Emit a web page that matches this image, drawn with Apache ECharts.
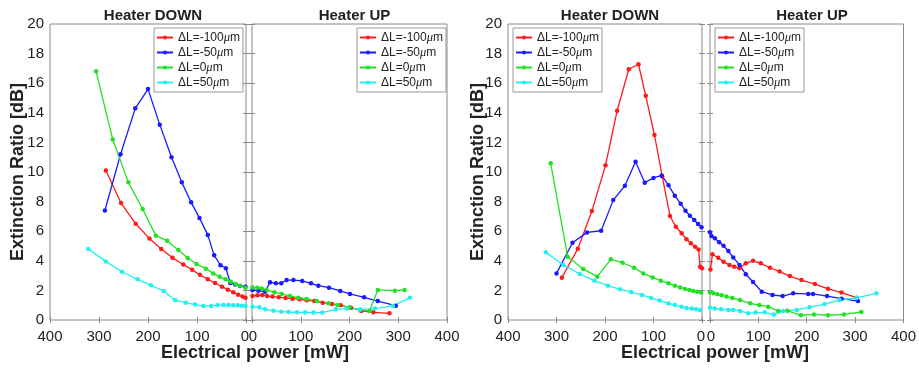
<!DOCTYPE html>
<html><head><meta charset="utf-8">
<script src="https://cdn.jsdelivr.net/npm/echarts@6/dist/echarts.min.js"></script>
<style>html,body{margin:0;padding:0;background:#fff}#c{width:919px;height:370px}</style>
</head><body><div id="c"></div>
<script>
// ---- data: [power mW, extinction ratio dB] ----
const seriesNames = ['ΔL=-100μm', 'ΔL=-50μm', 'ΔL=0μm', 'ΔL=50μm'];
const xTicks = [0, 100, 200, 300, 400];
const yTicks = [0, 2, 4, 6, 8, 10, 12, 14, 16, 18, 20];
const panelTitles = ['Heater DOWN', 'Heater UP', 'Heater DOWN', 'Heater UP'];

// Left figure, Heater DOWN
const aDownM100 = [[286,10.1],[255,7.9],[225,6.5],[197,5.5],[173,4.8],[150,4.2],[128,3.75],[110,3.4],[94,3.05],[78,2.75],[63,2.5],[49,2.25],[37,2.05],[26,1.87],[16,1.7],[7,1.58],[1,1.5]];
const aDownM50 = [[288,7.4],[256,11.2],[226,14.3],[200,15.6],[176,13.2],[152,11.0],[131,9.3],[112,7.95],[95,6.9],[78,5.75],[65,4.37],[52,3.7],[41,3.5],[32,2.5],[22,2.4],[12,2.3],[1,2.25]];
const aDown0 = [[306,16.8],[272,12.2],[240,9.3],[211,7.5],[184,5.7],[161,5.36],[138,4.73],[119,4.19],[101,3.78],[82,3.47],[67,3.15],[54,2.93],[42,2.75],[31,2.59],[21,2.43],[12,2.32],[1,2.18]];
const aDown50 = [[322,4.8],[286,3.96],[253,3.26],[221,2.75],[194,2.34],[168,1.96],[145,1.35],[123,1.17],[104,1.04],[87,0.95],[71,0.95],[58,1.01],[46,1.01],[36,1.01],[26,0.99],[17,0.99],[9,0.97],[1,0.95]];
// Left figure, Heater UP
const aUpM100 = [[1,1.62],[11,1.67],[21,1.69],[31,1.62],[42,1.58],[55,1.53],[69,1.49],[83,1.44],[97,1.4],[112,1.33],[128,1.28],[145,1.17],[164,1.08],[182,0.99],[203,0.83],[224,0.61],[249,0.52],[282,0.45]];
const aUpM50 = [[1,2.03],[13,1.98],[27,1.91],[37,2.55],[49,2.48],[60,2.48],[71,2.7],[85,2.7],[103,2.64],[121,2.48],[136,2.32],[158,2.18],[181,1.96],[201,1.76],[230,1.53],[258,1.28],[295,0.97]];
const aUp0 = [[1,2.2],[11,2.18],[20,2.12],[30,2.03],[46,1.87],[61,1.76],[78,1.62],[95,1.51],[112,1.42],[133,1.28],[157,1.13],[176,1.01],[200,0.86],[222,0.68],[241,0.61],[258,2.03],[293,1.98],[313,2.03]];
const aUp50 = [[1,0.9],[15,0.86],[27,0.72],[44,0.63],[60,0.56],[75,0.54],[92,0.52],[109,0.52],[126,0.5],[144,0.5],[172,0.72],[194,0.77],[222,0.72],[252,0.77],[289,0.95],[324,1.51]];
// Right figure, Heater DOWN
const bDownM100 = [[289,2.86],[256,4.82],[227,7.36],[199,10.45],[175,14.14],[151,16.94],[131,17.28],[116,15.15],[98,12.5],[82,9.7],[66,7.03],[54,6.3],[42,5.86],[32,5.45],[23,5.18],[14,4.95],[7,4.77],[4,3.6],[0,3.49]];
const bDownM50 = [[300,3.15],[267,5.22],[237,5.92],[208,6.03],[183,8.1],[159,9.07],[137,10.7],[118,9.28],[100,9.6],[83,9.77],[69,9.1],[56,8.4],[44,7.86],[34,7.38],[25,7.05],[16,6.76],[8,6.49],[1,6.26]];
const bDown0 = [[312,10.59],[277,4.28],[245,3.45],[216,2.93],[188,4.1],[164,3.87],[140,3.53],[121,3.15],[102,2.88],[85,2.66],[69,2.48],[56,2.32],[45,2.2],[35,2.09],[26,2.03],[18,1.96],[10,1.91],[2,1.85]];
const bDown50 = [[322,4.57],[286,3.72],[252,3.11],[222,2.66],[194,2.32],[169,2.07],[146,1.89],[124,1.69],[105,1.49],[87,1.31],[69,1.12],[56,1.01],[42,0.9],[32,0.81],[21,0.77],[12,0.72],[4,0.68]];
// Right figure, Heater UP
const bUpM100 = [[1,3.42],[5,4.44],[17,4.21],[28,3.94],[40,3.72],[50,3.6],[61,3.49],[74,3.83],[89,4.0],[105,3.83],[124,3.53],[144,3.27],[165,2.97],[189,2.7],[217,2.43],[244,2.11],[272,1.85],[303,1.51]];
const bUpM50 = [[0,5.93],[3,5.68],[10,5.52],[19,5.25],[28,5.02],[38,4.66],[48,4.23],[61,3.72],[74,3.09],[89,2.57],[107,1.91],[129,1.69],[150,1.62],[172,1.8],[203,1.76],[213,1.76],[242,1.62],[272,1.44],[306,1.28]];
const bUp0 = [[0,1.87],[7,1.8],[15,1.74],[24,1.67],[34,1.58],[46,1.49],[62,1.35],[83,1.13],[102,1.01],[120,0.9],[141,0.61],[160,0.63],[188,0.32],[215,0.38],[244,0.32],[277,0.38],[313,0.54]];
const bUp50 = [[0,0.83],[10,0.77],[23,0.72],[38,0.68],[48,0.68],[62,0.61],[79,0.45],[94,0.5],[113,0.52],[132,0.38],[151,0.61],[179,0.68],[206,0.86],[237,1.08],[268,1.35],[303,1.49],[344,1.8]];

const panelData = [
  [aDownM100, aDownM50, aDown0, aDown50],
  [aUpM100, aUpM50, aUp0, aUp50],
  [bDownM100, bDownM50, bDown0, bDown50],
  [bUpM100, bUpM50, bUp0, bUp50]
];

// ---- layout / style ----
const colors = ['#ff1a1a', '#1a1aff', '#22e022', '#22f0f0'];
const panels = [
  {left: 50, width: 196, inverse: true, ylabels: true, legendLeft: 154},
  {left: 252, width: 195, inverse: false, ylabels: false, legendLeft: 357},
  {left: 508, width: 194, inverse: true, ylabels: true, legendLeft: 513},
  {left: 710, width: 194, inverse: false, ylabels: false, legendLeft: 715}
];
const TOP = 24, H = 296;
const axisCol = '#8a8a8a', textCol = '#222';
const font = 'Liberation Sans, Arial, sans-serif';

const grid = [], xAxis = [], yAxis = [], series = [], legend = [], title = [];
panels.forEach((p, i) => {
  grid.push({left: p.left, top: TOP, width: p.width, height: H, show: true, borderColor: axisCol, borderWidth: 1, backgroundColor: '#fff'});
  const common = {min: 0, max: 400, interval: 100, inverse: p.inverse, gridIndex: i,
    axisLine: {show: false}, splitLine: {show: false},
    axisTick: {show: true, inside: true, length: 3, lineStyle: {color: axisCol}}};
  const zeroKey = p.inverse ? 'r' : 'l';
  xAxis.push(Object.assign({}, common, {type: 'value', position: 'bottom',
    axisLabel: {show: true, color: textCol, fontSize: 15, fontFamily: font, margin: 9, hideOverlap: false,
      formatter: v => v === 0 ? '{' + zeroKey + '|0}' : String(v),
      rich: {r: {fontSize: 15, fontFamily: font, color: textCol, padding: [0, 2, 0, 0]},
             l: {fontSize: 15, fontFamily: font, color: textCol, padding: [0, 0, 0, 2]}}}}));
  xAxis.push(Object.assign({}, common, {type: 'value', position: 'top', axisLabel: {show: false}}));
  const ycommon = {type: 'value', min: 0, max: 20, interval: 2, gridIndex: i,
    axisLine: {show: false}, splitLine: {show: false},
    axisTick: {show: true, inside: true, length: 3, lineStyle: {color: axisCol}}};
  yAxis.push(Object.assign({}, ycommon, {position: 'left',
    axisLabel: {show: p.ylabels, color: textCol, fontSize: 15, fontFamily: font, margin: 6}}));
  yAxis.push(Object.assign({}, ycommon, {position: 'right', axisLabel: {show: false}}));
  panelData[i].forEach((d, k) => {
    series.push({type: 'line', name: seriesNames[k], xAxisIndex: 2 * i, yAxisIndex: 2 * i,
      data: d, symbol: 'circle', symbolSize: 4.5, showSymbol: true,
      lineStyle: {color: colors[k], width: 1.3}, itemStyle: {color: colors[k]},
      emphasis: {disabled: true}, animation: false, z: 3});
  });
  legend.push({orient: 'vertical', left: p.legendLeft, top: 28, data: seriesNames,
    backgroundColor: '#fff', borderColor: '#999', borderWidth: 1,
    padding: [3, 3, 3, 2], itemGap: 2, itemWidth: 16, itemHeight: 5,
    selectedMode: false,
    textStyle: {fontFamily: font, fontSize: 12, color: textCol,
      rich: {a: {fontFamily: font, fontSize: 12, color: textCol, height: 13}, m: {fontFamily: 'Liberation Serif, serif', fontStyle: 'italic', fontSize: 12.5, color: textCol, height: 13}}},
    formatter: n => {
      const parts = n.split('μ');
      return '{a|' + parts[0] + '}{m|μ}{a|' + parts[1] + '}';
    }
  });
  title.push({text: panelTitles[i], left: p.left + p.width / 2, top: 3, textAlign: 'center',
    textStyle: {fontFamily: font, fontSize: 15, fontWeight: 'bold', color: textCol}});
});
// axis titles
[0, 460].forEach(off => {
  title.push({text: 'Electrical power [mW]', left: off + 250, top: 339, textAlign: 'center',
    textStyle: {fontFamily: font, fontSize: 18, fontWeight: 'bold', color: textCol}});
});

const chart = echarts.init(document.getElementById('c'), null, {renderer: 'canvas'});
chart.setOption({
  animation: false,
  backgroundColor: '#fff',
  title, grid, xAxis, yAxis, series, legend,
  graphic: [0, 460].map(off => ({type: 'text', x: off + 18, y: 172, rotation: Math.PI / 2,
    style: {text: 'Extinction Ratio [dB]', font: 'bold 18px ' + font, fill: textCol, align: 'center', verticalAlign: 'middle'}}))
});
</script></body></html>
